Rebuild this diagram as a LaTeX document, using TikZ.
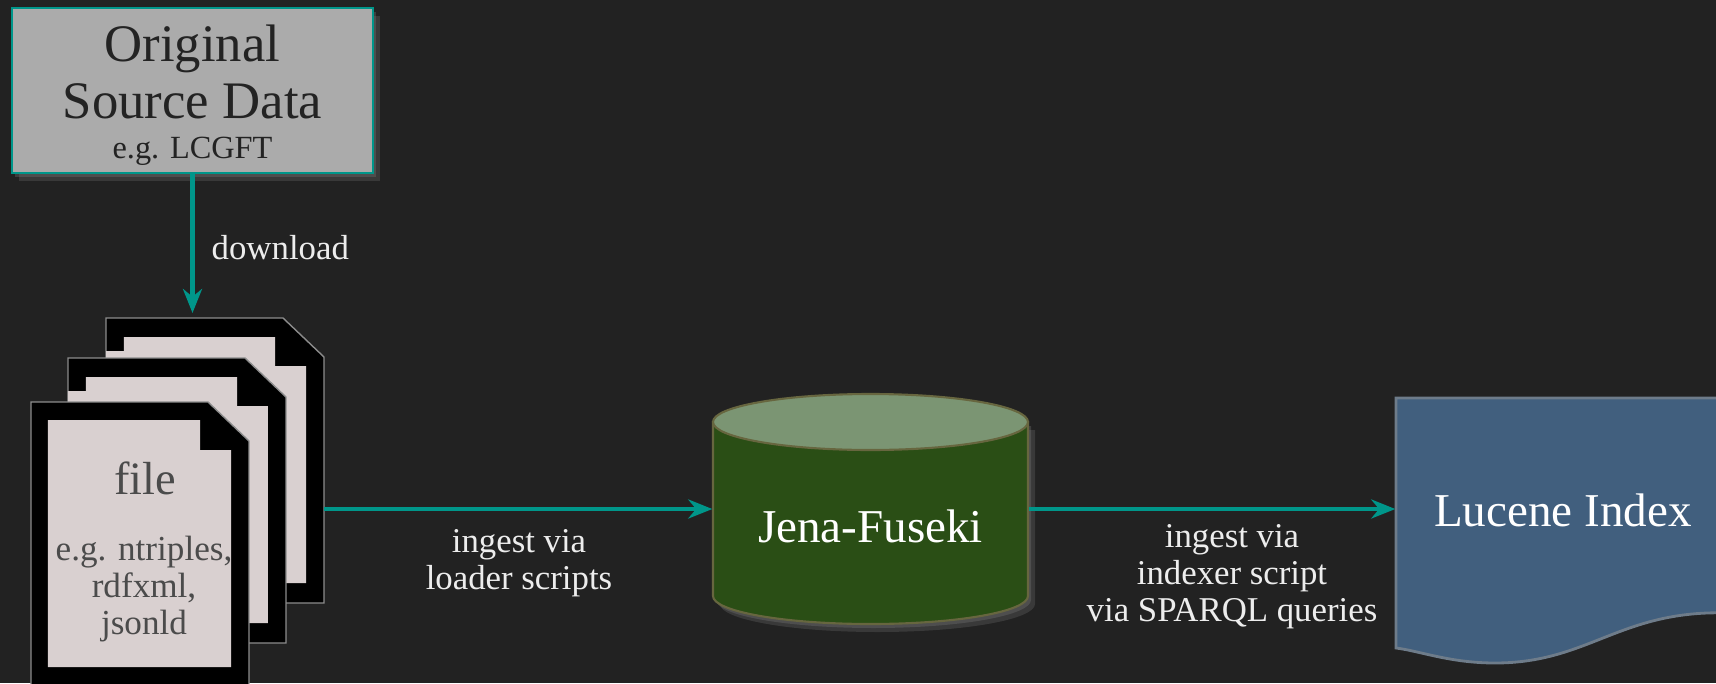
\documentclass[tikz,border=0pt]{standalone}
\usepackage{fontspec}
\setmainfont{Liberation Serif}
\usetikzlibrary{arrows.meta,shadows}

\begin{document}
\begin{tikzpicture}[
	flow/.style={very thick,arrowteal,-{Stealth[length=2.4mm,width=1.9mm]}},
	lbl/.style={text=labelwhite,font=\fontsize{9.9}{10.5}\selectfont,align=center,inner sep=0pt},
	softshadow/.style={drop shadow={opacity=0.25,shadow xshift=0.07cm,shadow yshift=-0.08cm},drop shadow={opacity=0.3,shadow xshift=0.03cm,shadow yshift=-0.04cm}},
	pageout/.style={fill=black,draw=pageedge,line width=0.4pt},
	pagein/.style={fill=pagelight},
	pagelbl/.style={text=pagetext,align=center,inner sep=0pt},
	dbbody/.style={fill=dbgreen,draw=dbedge,line width=0.6pt,softshadow},
	dbend/.style={fill=dbtop,draw=dbedge,line width=0.6pt},
	biglbl/.style={font=\fontsize{13.4}{14}\selectfont,text=white,inner sep=0pt}
]
					\definecolor{bgdark}{HTML}{222222}
					\definecolor{arrowteal}{HTML}{00968A}
					\definecolor{srcgray}{HTML}{ABABAB}
					\definecolor{srctext}{HTML}{232323}
					\definecolor{labelwhite}{HTML}{EDEDED}
					\definecolor{pagelight}{HTML}{D9D0D0}
					\definecolor{pageedge}{HTML}{8C8C8C}
					\definecolor{pagetext}{HTML}{4B4B4B}
					\definecolor{dbgreen}{HTML}{2A4E15}
					\definecolor{dbtop}{HTML}{7B9573}
					\definecolor{dbedge}{HTML}{67663F}
					\definecolor{lucblue}{HTML}{415F7E}
					\definecolor{lucedge}{HTML}{6E7C8A}
					\useasboundingbox (0,0) rectangle (17.16,6.83);
					\fill[bgdark] (0,0) rectangle (17.16,6.83);

					\node[draw=arrowteal,line width=0.7pt,fill=srcgray,text=srctext,inner sep=0pt,minimum width=3.61cm,minimum height=1.65cm,align=center,font=\fontsize{15}{16.2}\selectfont,softshadow] (src) at (1.925,5.925) {\rule{0pt}{13pt}Original\\Source Data\\[-4.8pt]{\fontsize{9.2}{10}\selectfont e.g. LCGFT}};

					\begin{scope}[shift={(1.06,3.65)}]
						\draw[pageout] (0,0) -- (1.77,0) -- (2.18,-0.39) -- (2.18,-2.85) -- (0,-2.85) -- cycle;
						\fill[pagein] (0,-0.33) -- (0.18,-0.33) -- (0.18,-0.19) -- (1.69,-0.19) -- (1.69,-0.48) -- (2.00,-0.48) -- (2.00,-2.65) -- (0,-2.65) -- cycle;
					\end{scope}
					\begin{scope}[shift={(0.68,3.25)}]
						\draw[pageout] (0,0) -- (1.77,0) -- (2.18,-0.39) -- (2.18,-2.85) -- (0,-2.85) -- cycle;
						\fill[pagein] (0,-0.33) -- (0.18,-0.33) -- (0.18,-0.19) -- (1.69,-0.19) -- (1.69,-0.48) -- (2.00,-0.48) -- (2.00,-2.65) -- (0,-2.65) -- cycle;
					\end{scope}
					\begin{scope}[shift={(0.31,2.81)}]
						\draw[pageout] (0,0) -- (1.77,0) -- (2.18,-0.39) -- (2.18,-2.85) -- (0,-2.85) -- cycle;
						\fill[pagein] (0.17,-0.18) -- (1.69,-0.18) -- (1.69,-0.48) -- (2.00,-0.48) -- (2.00,-2.65) -- (0.17,-2.65) -- cycle;
					\end{scope}
					\node[pagelbl,font=\fontsize{13.2}{14}\selectfont] (file) at (1.45,2.05) {file};
					\node[pagelbl,font=\fontsize{10}{10.5}\selectfont] (fmt) at (1.44,0.94) {e.g. ntriples,\\rdfxml,\\jsonld};
					\coordinate (dlend) at (1.925,3.70);
					\coordinate (fileout) at (3.24,1.74);

					\draw[dbbody] (7.13,2.61) -- (7.13,0.87) arc[start angle=180,end angle=360,x radius=1.575,y radius=0.28] -- (10.28,2.61) -- cycle;
					\draw[dbend] (8.705,2.61) ellipse[x radius=1.575,y radius=0.28];
					\node[biglbl,minimum width=3.15cm] (jena) at (8.705,1.57) {Jena-Fuseki};

					\draw[fill=lucblue,draw=lucedge,line width=0.8pt] (13.96,2.85) -- (17.30,2.85) -- (17.30,0.70) .. controls (16.2,0.74) and (15.9,0.20) .. (14.95,0.20) .. controls (14.5,0.20) and (14.2,0.32) .. (13.96,0.35) -- cycle;
					\node[biglbl,minimum width=3.34cm] (lucene) at (15.63,1.73) {Lucene Index};

					\draw[flow] (src.south) -- (dlend);
					\draw[flow] (fileout) -- (fileout -| jena.west);
					\draw[flow] (jena.east |- fileout) -- (lucene.west |- fileout);

					\node[lbl,anchor=west] (down) at (2.11,4.35) {download};
					\node[lbl] (load) at (5.19,1.20) {ingest via\\loader scripts};
					\node[lbl] (index) at (12.32,1.06) {ingest via\\indexer script\\via SPARQL queries};
\end{tikzpicture}
\end{document}
